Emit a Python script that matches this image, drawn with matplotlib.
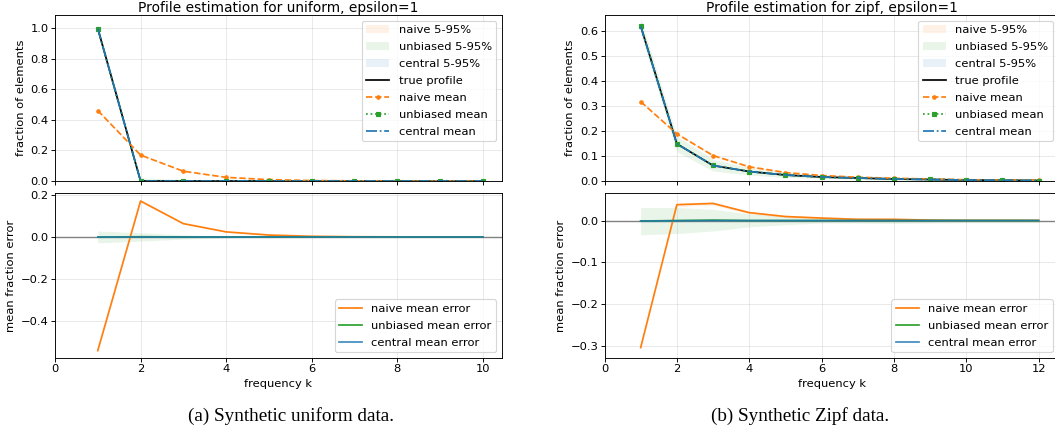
import matplotlib.pyplot as plt
import numpy as np

# uniform data, epsilon=1
k_uni = [1, 2, 3, 4, 5, 6, 7, 8, 9, 10]
true_uni = [1.0, 0, 0, 0, 0, 0, 0, 0, 0, 0]
naive_uni = [0.462, 0.170, 0.064, 0.024, 0.009, 0.003, 0.001, 0.0005, 0.0002, 0.0001]
naive_lo_uni = [0.455, 0.165, 0.061, 0.022, 0.008, 0.002, 0.0005, 0.0, 0.0, 0.0]
naive_hi_uni = [0.469, 0.175, 0.067, 0.026, 0.010, 0.004, 0.0015, 0.001, 0.0005, 0.0003]
unb_uni = [0.999, 0.001, 0.0, 0.0, 0.0, 0.0, 0.0, 0.0, 0.0, 0.0]
unb_lo_uni = [0.972, -0.02, -0.01, -0.004, -0.001, 0.0, 0.0, 0.0, 0.0, 0.0]
unb_hi_uni = [1.028, 0.02, 0.01, 0.004, 0.001, 0.0, 0.0, 0.0, 0.0, 0.0]
cen_uni = [1.0, 0.0, 0.0, 0.0, 0.0, 0.0, 0.0, 0.0, 0.0, 0.0]
cen_lo_uni = [0.996, 0.0, 0.0, 0.0, 0.0, 0.0, 0.0, 0.0, 0.0, 0.0]
cen_hi_uni = [1.0, 0.004, 0.0, 0.0, 0.0, 0.0, 0.0, 0.0, 0.0, 0.0]

naive_err_uni = [-0.538, 0.170, 0.063, 0.024, 0.009, 0.003, 0.001, 0.0005, 0.0002, 0.0001]
naive_err_lo_uni = [-0.545, 0.165, 0.060, 0.022, 0.008, 0.002, 0.0005, 0.0, 0.0, 0.0]
naive_err_hi_uni = [-0.531, 0.175, 0.066, 0.026, 0.010, 0.004, 0.0015, 0.001, 0.0005, 0.0003]
unb_err_uni = [-0.001, 0.001, 0.0, 0.0, 0.0, 0.0, 0.0, 0.0, 0.0, 0.0]
unb_err_lo_uni = [-0.028, -0.02, -0.01, -0.004, -0.001, 0.0, 0.0, 0.0, 0.0, 0.0]
unb_err_hi_uni = [0.028, 0.02, 0.01, 0.004, 0.001, 0.0, 0.0, 0.0, 0.0, 0.0]
cen_err_uni = [0.0, 0.0, 0.0, 0.0, 0.0, 0.0, 0.0, 0.0, 0.0, 0.0]
cen_err_lo_uni = [-0.004, 0.0, 0.0, 0.0, 0.0, 0.0, 0.0, 0.0, 0.0, 0.0]
cen_err_hi_uni = [0.0, 0.004, 0.0, 0.0, 0.0, 0.0, 0.0, 0.0, 0.0, 0.0]

# zipf data, epsilon=1
k_zipf = [1, 2, 3, 4, 5, 6, 7, 8, 9, 10, 11, 12]
true_zipf = [0.621, 0.149, 0.062, 0.038, 0.024, 0.016, 0.012, 0.008, 0.006, 0.004, 0.003, 0.002]
naive_zipf = [0.318, 0.189, 0.102, 0.057, 0.034, 0.022, 0.015, 0.011, 0.008, 0.005, 0.004, 0.003]
naive_lo_zipf = [0.314, 0.185, 0.098, 0.054, 0.032, 0.020, 0.013, 0.009, 0.006, 0.004, 0.003, 0.002]
naive_hi_zipf = [0.322, 0.193, 0.106, 0.060, 0.036, 0.024, 0.017, 0.013, 0.010, 0.006, 0.005, 0.004]
unb_zipf = [0.621, 0.148, 0.063, 0.038, 0.024, 0.015, 0.012, 0.008, 0.007, 0.004, 0.004, 0.002]
unb_lo_zipf = [0.588, 0.118, 0.040, 0.024, 0.014, 0.010, 0.006, 0.001, 0.0, 0.0, 0.0, 0.0]
unb_hi_zipf = [0.652, 0.180, 0.087, 0.053, 0.034, 0.024, 0.018, 0.013, 0.011, 0.008, 0.007, 0.006]
cen_zipf = [0.620, 0.149, 0.062, 0.038, 0.024, 0.016, 0.012, 0.008, 0.006, 0.004, 0.003, 0.002]
cen_lo_zipf = [0.617, 0.146, 0.060, 0.036, 0.022, 0.014, 0.010, 0.006, 0.004, 0.003, 0.002, 0.001]
cen_hi_zipf = [0.623, 0.152, 0.064, 0.040, 0.026, 0.018, 0.014, 0.010, 0.008, 0.005, 0.004, 0.003]

naive_err_zipf = [-0.304, 0.038, 0.041, 0.019, 0.0097, 0.006, 0.003, 0.003, 0.001, 0.0005, 0.0005, 0.0003]
naive_err_lo_zipf = [-0.308, 0.034, 0.037, 0.016, 0.007, 0.004, 0.001, 0.001, 0.0, -0.001, -0.001, -0.001]
naive_err_hi_zipf = [-0.300, 0.042, 0.045, 0.022, 0.012, 0.008, 0.005, 0.005, 0.003, 0.002, 0.002, 0.001]
unb_err_zipf = [-0.001, 0.0, 0.001, 0.0, 0.0, 0.0, 0.0, 0.0, 0.0, 0.0, 0.0, 0.0]
unb_err_lo_zipf = [-0.034, -0.031, -0.025, -0.015, -0.010, -0.006, -0.006, -0.007, -0.006, -0.005, -0.005, -0.005]
unb_err_hi_zipf = [0.031, 0.031, 0.027, 0.016, 0.010, 0.008, 0.006, 0.005, 0.005, 0.004, 0.004, 0.004]
cen_err_zipf = [-0.001, -0.0005, 0.0, 0.0, 0.0, 0.0, 0.0, 0.0, 0.0, 0.0, 0.0, 0.0]
cen_err_lo_zipf = [-0.004, -0.003, -0.002, -0.002, -0.001, -0.001, -0.001, -0.001, -0.001, -0.001, -0.001, -0.001]
cen_err_hi_zipf = [0.002, 0.002, 0.002, 0.002, 0.001, 0.001, 0.001, 0.001, 0.001, 0.001, 0.001, 0.001]

plt.rcParams['font.family'] = ['DejaVu Sans']
plt.rcParams['xtick.major.pad'] = 2
plt.rcParams['ytick.major.pad'] = 2
plt.rcParams['legend.labelspacing'] = 0.6

# the reference looks like a default matplotlib figure shrunk a bit,
# so draw at a low dpi with default sizes
DPI = 82.5
W, H = 1055, 435
fig = plt.figure(figsize=(W / DPI, H / DPI), dpi=DPI)

C_NAIVE, C_UNB, C_CEN = '#ff7f0e', '#2ca02c', '#1f77b4'


def panel(x0, width, name, k, true, est, err, ylim_top, ylim_bot, caption, cap_x):
    # est / err: dict name -> (mean, lo, hi)
    ax1 = fig.add_axes([x0 / W, (H - 181) / H, width / W, 166 / H])
    ax2 = fig.add_axes([x0 / W, (H - 358) / H, width / W, 165 / H], sharex=ax1)

    ax1.fill_between(k, est['naive'][1], est['naive'][2], color=C_NAIVE, alpha=0.1, lw=0, label='naive 5-95%')
    ax1.fill_between(k, est['unbiased'][1], est['unbiased'][2], color=C_UNB, alpha=0.1, lw=0, label='unbiased 5-95%')
    ax1.fill_between(k, est['central'][1], est['central'][2], color=C_CEN, alpha=0.1, lw=0, label='central 5-95%')
    ax1.plot(k, true, color='black', label='true profile')
    ax1.plot(k, est['naive'][0], '--', marker='.', color=C_NAIVE, label='naive mean')
    ax1.plot(k, est['unbiased'][0], ':', marker='s', ms=3, color=C_UNB, label='unbiased mean')
    ax1.plot(k, est['central'][0], '-.', color=C_CEN, label='central mean')
    ax1.set_ylim(*ylim_top)
    ax1.set_ylabel('fraction of elements')
    ax1.set_title(f'Profile estimation for {name}, epsilon=1', pad=3)
    ax1.grid(True, alpha=0.3)
    ax1.tick_params(labelbottom=False)
    ax1.legend(loc='upper right')

    ax2.axhline(0, color='gray', lw=1.2)
    ax2.fill_between(k, err['naive'][1], err['naive'][2], color=C_NAIVE, alpha=0.1, lw=0)
    ax2.fill_between(k, err['unbiased'][1], err['unbiased'][2], color=C_UNB, alpha=0.1, lw=0)
    ax2.fill_between(k, err['central'][1], err['central'][2], color=C_CEN, alpha=0.1, lw=0)
    ax2.plot(k, err['naive'][0], color=C_NAIVE, label='naive mean error')
    ax2.plot(k, err['unbiased'][0], color=C_UNB, label='unbiased mean error')
    ax2.plot(k, err['central'][0], color=C_CEN, alpha=0.85, label='central mean error')
    ax2.set_xlim(0, k[-1] + 0.05 * (k[-1] - k[0]))
    ax2.set_ylim(*ylim_bot)
    ax2.set_ylabel('mean fraction error')
    ax2.set_xlabel('frequency k')
    ax2.grid(True, alpha=0.3)
    ax2.legend(loc='lower right')

    fig.text(cap_x / W, (H - 416) / H, caption,
             ha='center', va='center', fontsize=16.7, family='Liberation Serif')
    return ax1, ax2


panel(55, 447, 'uniform', k_uni, true_uni,
      {'naive': (naive_uni, naive_lo_uni, naive_hi_uni),
       'unbiased': (unb_uni, unb_lo_uni, unb_hi_uni),
       'central': (cen_uni, cen_lo_uni, cen_hi_uni)},
      {'naive': (naive_err_uni, naive_err_lo_uni, naive_err_hi_uni),
       'unbiased': (unb_err_uni, unb_err_lo_uni, unb_err_hi_uni),
       'central': (cen_err_uni, cen_err_lo_uni, cen_err_hi_uni)},
      (0, 1.088), (-0.573, 0.208), '(a) Synthetic uniform data.', 291)

panel(604.5, 454, 'zipf', k_zipf, true_zipf,
      {'naive': (naive_zipf, naive_lo_zipf, naive_hi_zipf),
       'unbiased': (unb_zipf, unb_lo_zipf, unb_hi_zipf),
       'central': (cen_zipf, cen_lo_zipf, cen_hi_zipf)},
      {'naive': (naive_err_zipf, naive_err_lo_zipf, naive_err_hi_zipf),
       'unbiased': (unb_err_zipf, unb_err_lo_zipf, unb_err_hi_zipf),
       'central': (cen_err_zipf, cen_err_lo_zipf, cen_err_hi_zipf)},
      (0, 0.665), (-0.329, 0.066), '(b) Synthetic Zipf data.', 800)

fig.savefig('out.png', dpi=DPI)
